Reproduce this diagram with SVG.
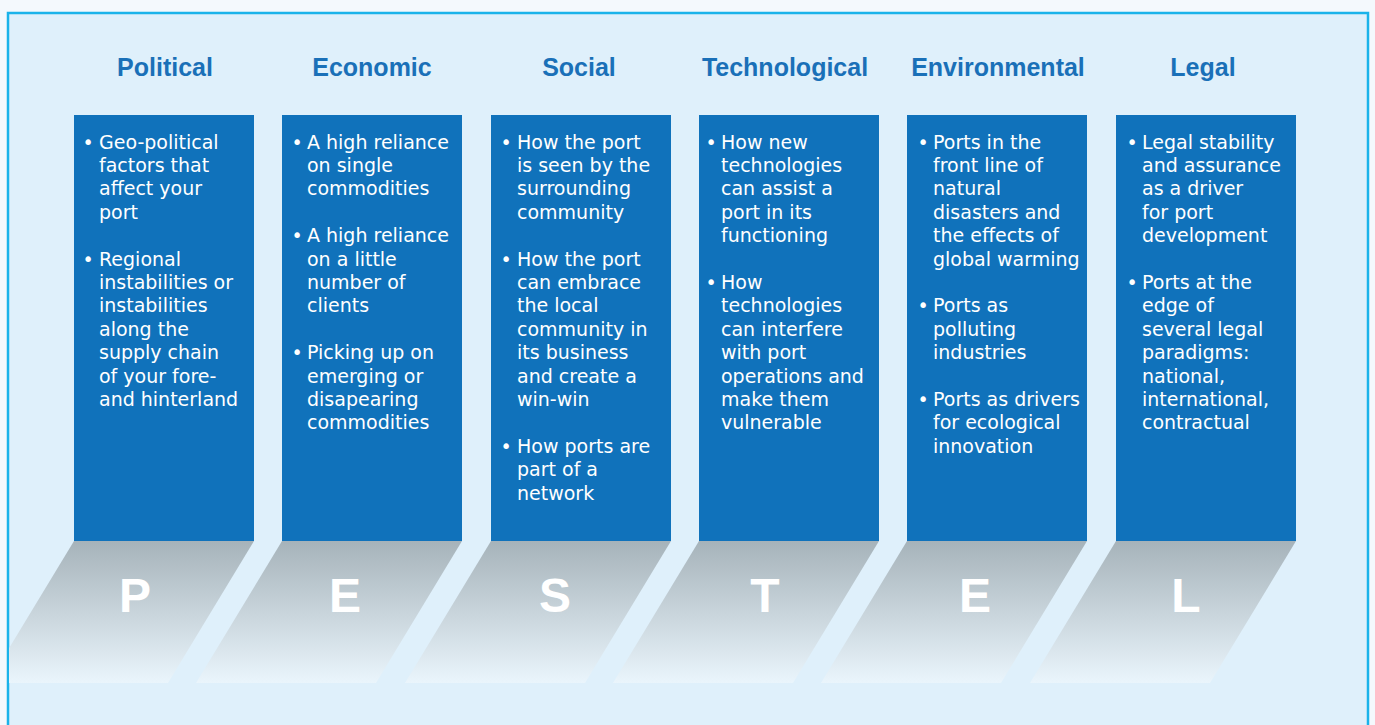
<svg xmlns="http://www.w3.org/2000/svg" width="1375" height="725" viewBox="0 0 1375 725">
<style>
.h{font-family:"Liberation Sans",Arial,sans-serif;font-weight:bold;font-size:25px;fill:#1a70b8;text-anchor:middle}
.box{fill:#1072bb}
.t{font-family:"DejaVu Sans",sans-serif;font-size:19px;fill:#ffffff}
.b{font-family:"DejaVu Sans",sans-serif;font-size:19px;fill:#ffffff;text-anchor:middle}
.sh{fill:url(#g)}
.L{font-family:"Liberation Sans",Arial,sans-serif;font-weight:bold;font-size:48px;fill:#ffffff;text-anchor:middle}
</style>
<defs>
<linearGradient id="g" x1="0" y1="0" x2="0" y2="1">
<stop offset="0" stop-color="#a6b3ba"/>
<stop offset="1" stop-color="#eaf5fc"/>
</linearGradient>
<clipPath id="fr"><rect x="9" y="14" width="1358" height="720"/></clipPath>
</defs>
<rect x="0" y="0" width="1375" height="725" fill="#f4f9fd"/>
<rect x="8" y="13" width="1360" height="730" fill="#dff0fb" stroke="#1ab3ea" stroke-width="2.5"/>
<g clip-path="url(#fr)">
<g id="col-P">
<text class="h" x="165" y="76">Political</text>
<rect class="box" x="74" y="115" width="180" height="426"/>
<polygon class="sh" points="74,541 254,541 168,683 -12,683"/>
<text class="L" x="135" y="612">P</text>
<text class="b" x="88" y="148.5">•</text>
<text class="t" x="99" y="148.5"><tspan x="99">Geo-political</tspan><tspan x="99" dy="23.4">factors that</tspan><tspan x="99" dy="23.4">affect your</tspan><tspan x="99" dy="23.4">port</tspan></text>
<text class="b" x="88" y="265.5">•</text>
<text class="t" x="99" y="265.5"><tspan x="99">Regional</tspan><tspan x="99" dy="23.4">instabilities or</tspan><tspan x="99" dy="23.4">instabilities</tspan><tspan x="99" dy="23.4">along the</tspan><tspan x="99" dy="23.4">supply chain</tspan><tspan x="99" dy="23.4">of your fore-</tspan><tspan x="99" dy="23.4">and hinterland</tspan></text>
</g>
<g id="col-E">
<text class="h" x="372" y="76">Economic</text>
<rect class="box" x="282" y="115" width="180" height="426"/>
<polygon class="sh" points="282,541 462,541 376,683 196,683"/>
<text class="L" x="345" y="612">E</text>
<text class="b" x="297" y="148.5">•</text>
<text class="t" y="148.5"><tspan x="307">A high reliance</tspan><tspan x="307" dy="23.4">on single</tspan><tspan x="307" dy="23.4">commodities</tspan></text>
<text class="b" x="297" y="242.1">•</text>
<text class="t" y="242.1"><tspan x="307">A high reliance</tspan><tspan x="307" dy="23.4">on a little</tspan><tspan x="307" dy="23.4">number of</tspan><tspan x="307" dy="23.4">clients</tspan></text>
<text class="b" x="297" y="359.1">•</text>
<text class="t" y="359.1"><tspan x="307">Picking up on</tspan><tspan x="307" dy="23.4">emerging or</tspan><tspan x="307" dy="23.4">disapearing</tspan><tspan x="307" dy="23.4">commodities</tspan></text>
</g>
<g id="col-S">
<text class="h" x="579" y="76">Social</text>
<rect class="box" x="491" y="115" width="180" height="426"/>
<polygon class="sh" points="491,541 671,541 585,683 405,683"/>
<text class="L" x="555" y="612">S</text>
<text class="b" x="506" y="148.5">•</text>
<text class="t" y="148.5"><tspan x="517">How the port</tspan><tspan x="517" dy="23.4">is seen by the</tspan><tspan x="517" dy="23.4">surrounding</tspan><tspan x="517" dy="23.4">community</tspan></text>
<text class="b" x="506" y="265.5">•</text>
<text class="t" y="265.5"><tspan x="517">How the port</tspan><tspan x="517" dy="23.4">can embrace</tspan><tspan x="517" dy="23.4">the local</tspan><tspan x="517" dy="23.4">community in</tspan><tspan x="517" dy="23.4">its business</tspan><tspan x="517" dy="23.4">and create a</tspan><tspan x="517" dy="23.4">win-win</tspan></text>
<text class="b" x="506" y="452.7">•</text>
<text class="t" y="452.7"><tspan x="517">How ports are</tspan><tspan x="517" dy="23.4">part of a</tspan><tspan x="517" dy="23.4">network</tspan></text>
</g>
<g id="col-T">
<text class="h" x="785" y="76">Technological</text>
<rect class="box" x="699" y="115" width="180" height="426"/>
<polygon class="sh" points="699,541 879,541 793,683 613,683"/>
<text class="L" x="765" y="612">T</text>
<text class="b" x="711" y="148.5">•</text>
<text class="t" y="148.5"><tspan x="721">How new</tspan><tspan x="721" dy="23.4">technologies</tspan><tspan x="721" dy="23.4">can assist a</tspan><tspan x="721" dy="23.4">port in its</tspan><tspan x="721" dy="23.4">functioning</tspan></text>
<text class="b" x="711" y="288.9">•</text>
<text class="t" y="288.9"><tspan x="721">How</tspan><tspan x="721" dy="23.4">technologies</tspan><tspan x="721" dy="23.4">can interfere</tspan><tspan x="721" dy="23.4">with port</tspan><tspan x="721" dy="23.4">operations and</tspan><tspan x="721" dy="23.4">make them</tspan><tspan x="721" dy="23.4">vulnerable</tspan></text>
</g>
<g id="col-Env">
<text class="h" x="998" y="76">Environmental</text>
<rect class="box" x="907" y="115" width="180" height="426"/>
<polygon class="sh" points="907,541 1087,541 1001,683 821,683"/>
<text class="L" x="975" y="612">E</text>
<text class="b" x="923" y="148.5">•</text>
<text class="t" y="148.5"><tspan x="933">Ports in the</tspan><tspan x="933" dy="23.4">front line of</tspan><tspan x="933" dy="23.4">natural</tspan><tspan x="933" dy="23.4">disasters and</tspan><tspan x="933" dy="23.4">the effects of</tspan><tspan x="933" dy="23.4">global warming</tspan></text>
<text class="b" x="923" y="312.3">•</text>
<text class="t" y="312.3"><tspan x="933">Ports as</tspan><tspan x="933" dy="23.4">polluting</tspan><tspan x="933" dy="23.4">industries</tspan></text>
<text class="b" x="923" y="405.9">•</text>
<text class="t" y="405.9"><tspan x="933">Ports as drivers</tspan><tspan x="933" dy="23.4">for ecological</tspan><tspan x="933" dy="23.4">innovation</tspan></text>
</g>
<g id="col-L">
<text class="h" x="1203" y="76">Legal</text>
<rect class="box" x="1116" y="115" width="180" height="426"/>
<polygon class="sh" points="1116,541 1296,541 1210,683 1030,683"/>
<text class="L" x="1186" y="612">L</text>
<text class="b" x="1132" y="148.5">•</text>
<text class="t" y="148.5"><tspan x="1142">Legal stability</tspan><tspan x="1142" dy="23.4">and assurance</tspan><tspan x="1142" dy="23.4">as a driver</tspan><tspan x="1142" dy="23.4">for port</tspan><tspan x="1142" dy="23.4">development</tspan></text>
<text class="b" x="1132" y="288.9">•</text>
<text class="t" y="288.9"><tspan x="1142">Ports at the</tspan><tspan x="1142" dy="23.4">edge of</tspan><tspan x="1142" dy="23.4">several legal</tspan><tspan x="1142" dy="23.4">paradigms:</tspan><tspan x="1142" dy="23.4">national,</tspan><tspan x="1142" dy="23.4">international,</tspan><tspan x="1142" dy="23.4">contractual</tspan></text>
</g>
</g>
<g id="connectors"/>
</svg>
